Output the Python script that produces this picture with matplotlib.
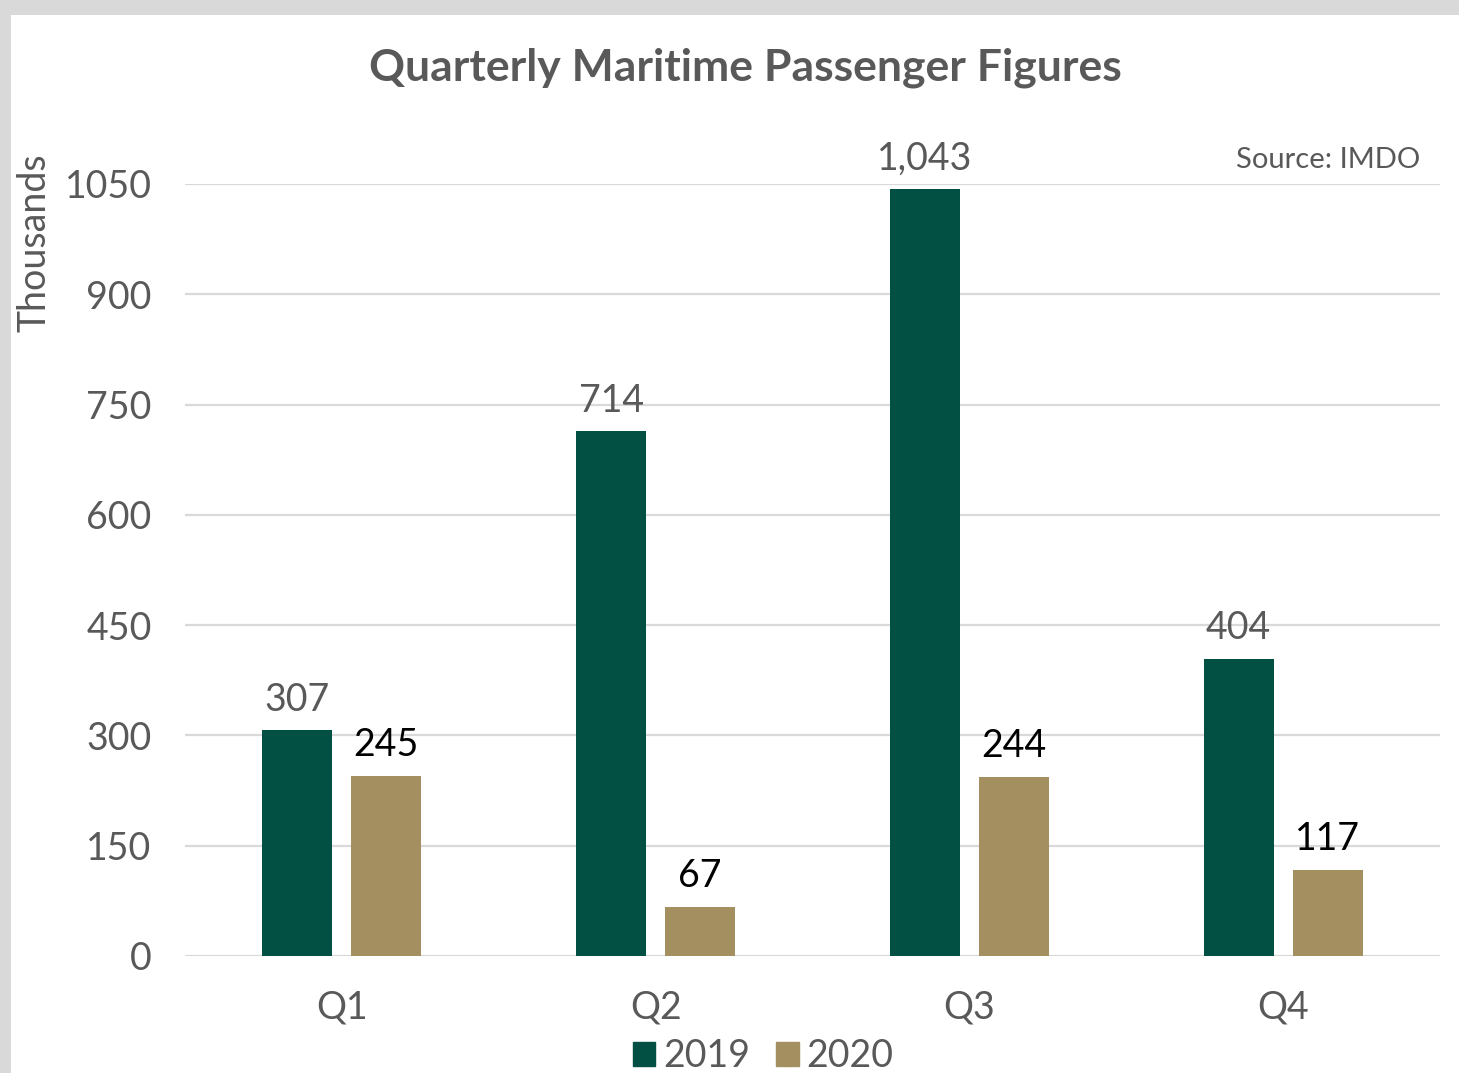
import matplotlib
matplotlib.use("Agg")
import matplotlib.pyplot as plt
from matplotlib.patches import Rectangle, Patch
import numpy as np

plt.rcParams['font.family'] = ['Lato', 'DejaVu Sans']

# data (thousands of passengers)
quarters = ["Q1", "Q2", "Q3", "Q4"]
pax_2019 = [307, 714, 1043, 404]
pax_2020 = [245, 67, 244, 117]
yticks = [0, 150, 300, 450, 600, 750, 900, 1050]

green = "#024F43"
tan = "#A38F5F"
grey_txt = "#595959"

W, H = 1459, 1073
fig = plt.figure(figsize=(W / 100, H / 100), dpi=100)
fig.patch.set_facecolor("#D9D9D9")
# white chart panel inside the grey frame
fig.patches.append(Rectangle((11 / W, 0), 1, (H - 15) / H, transform=fig.transFigure,
                             facecolor="white", edgecolor="none", zorder=-10))

ax = fig.add_axes([185 / W, (H - 956) / H, (1440 - 185) / W, (956 - 184) / H])
ax.set_facecolor("none")

x = np.arange(len(quarters))
bw = 0.223
b1 = ax.bar(x - 0.142, pax_2019, bw, color=green, zorder=3)
b2 = ax.bar(x + 0.142, pax_2020, bw, color=tan, zorder=3)

for rect, v in zip(b1, pax_2019):
    ax.annotate(f"{v:,}", (rect.get_x() + rect.get_width() / 2, v), xytext=(0, 9),
                textcoords="offset points", ha="center", va="bottom",
                fontsize=27, color=grey_txt)
for rect, v in zip(b2, pax_2020):
    ax.annotate(f"{v:,}", (rect.get_x() + rect.get_width() / 2, v), xytext=(0, 9),
                textcoords="offset points", ha="center", va="bottom",
                fontsize=27, color="black")

ax.set_xlim(-0.5, 3.5)
ax.set_ylim(0, 1050)
ax.set_yticks(yticks)
ax.set_yticklabels([str(t) for t in yticks])
ax.set_xticks(x)
ax.set_xticklabels(quarters)
ax.tick_params(axis="both", length=0, labelsize=27, colors=grey_txt)
ax.tick_params(axis="y", pad=24)
ax.tick_params(axis="x", pad=24)
ax.grid(axis="y", color="#D9D9D9", linewidth=1.6, zorder=0)
for s in ax.spines.values():
    s.set_visible(False)

fig.text(35 / W, 1 - 243 / H, "Thousands", rotation=90, ha="center", va="center",
         fontsize=27, color=grey_txt)
fig.text(745 / W, 1 - 68 / H, "Quarterly Maritime Passenger Figures", ha="center",
         va="center", fontsize=32, fontweight="bold", color=grey_txt)
fig.text(1420 / W, 1 - 160 / H, "Source: IMDO", ha="right", va="center",
         fontsize=21, color=grey_txt)

handles = [Patch(color=green, label="2019"), Patch(color=tan, label="2020")]
fig.legend(handles=handles, loc="center", bbox_to_anchor=(763 / W, 17 / H), ncol=2,
           frameon=False, fontsize=27, handlelength=0.6, handleheight=0.6,
           handletextpad=0.2, columnspacing=0.7, labelcolor=grey_txt)

fig.savefig("out.png", dpi=100, facecolor=fig.get_facecolor())
